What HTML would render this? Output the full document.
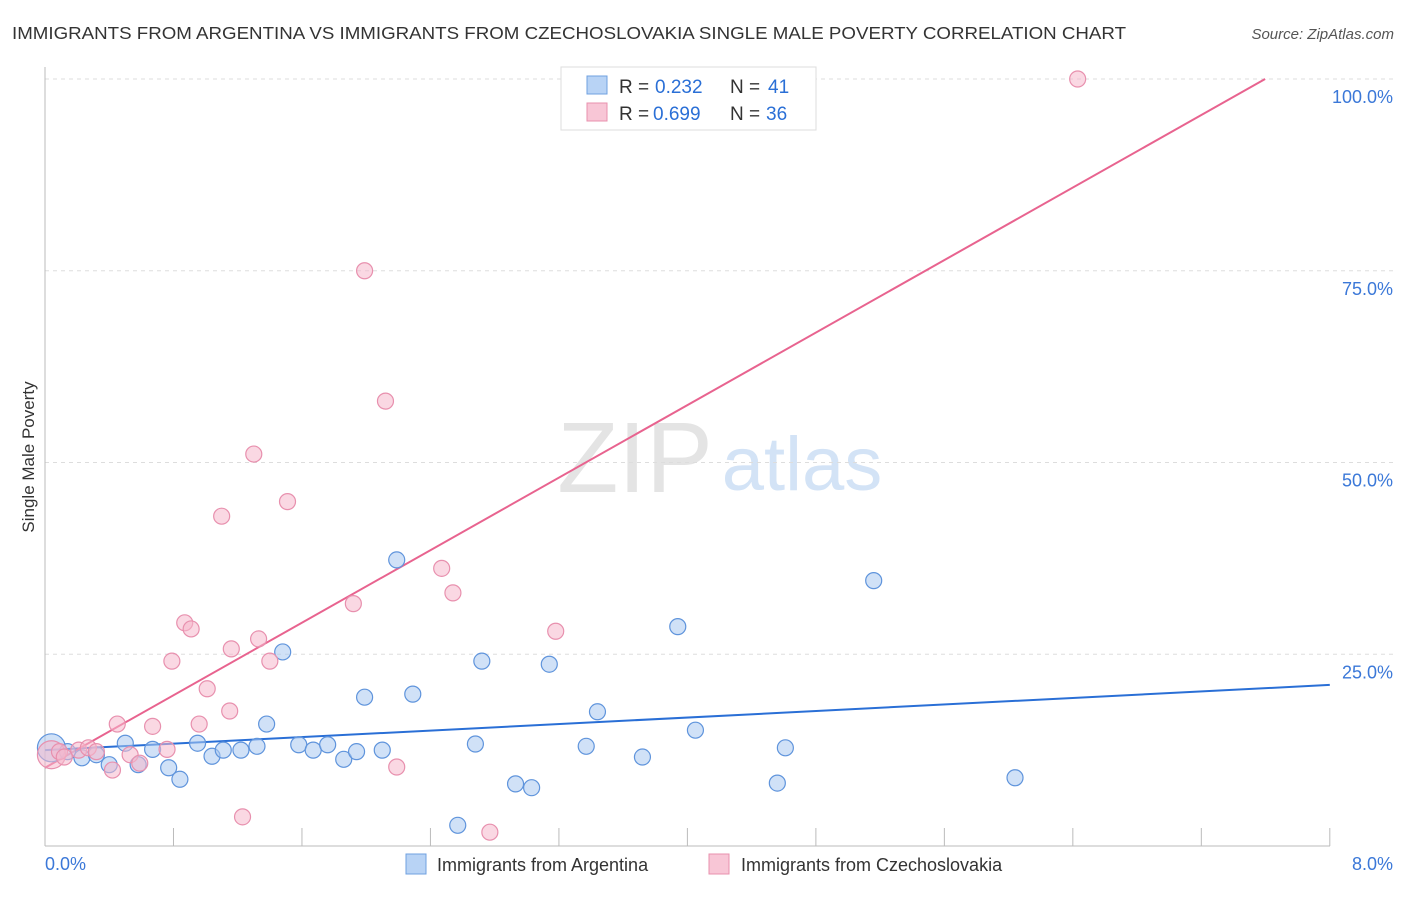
<!DOCTYPE html>
<html><head><meta charset="utf-8"><style>
body{margin:0;background:#fff;font-family:"Liberation Sans",sans-serif}
svg text{font-family:"Liberation Sans",sans-serif}
</style></head><body>
<svg id="chart" width="1406" height="892" xmlns="http://www.w3.org/2000/svg">
<text x="12" y="39" font-size="17.5" fill="#333" textLength="1114" lengthAdjust="spacingAndGlyphs">IMMIGRANTS FROM ARGENTINA VS IMMIGRANTS FROM CZECHOSLOVAKIA SINGLE MALE POVERTY CORRELATION CHART</text>
<text x="1394" y="39" font-size="15" fill="#555" font-style="italic" text-anchor="end">Source: ZipAtlas.com</text>
<text x="34" y="457" font-size="17" fill="#333" text-anchor="middle" transform="rotate(-90 34 457)">Single Male Poverty</text>
<g><text x="635" y="492" font-size="100" fill="#e4e4e4" font-family="Liberation Serif" text-anchor="middle">ZIP</text><text x="802" y="490" font-size="76" fill="#d3e3f6" text-anchor="middle">atlas</text></g>
<g id="grid"></g><g id="axes"></g><g id="lines"></g><g id="points"></g>
<g>
<rect x="561" y="67" width="255" height="63" fill="#fff" stroke="#ddd"/>
<rect x="587" y="76" width="20" height="18" fill="#b8d3f5" stroke="#6fa0e0"/>
<text x="619" y="93" font-size="19" fill="#333">R =</text><text x="655" y="93" font-size="19" fill="#2a6fd6">0.232</text>
<text x="730" y="93" font-size="19" fill="#333">N =</text><text x="768" y="93" font-size="19" fill="#2a6fd6">41</text>
<rect x="587" y="103" width="20" height="18" fill="#f8c6d6" stroke="#e890ae"/>
<text x="619" y="120" font-size="19" fill="#333">R =</text><text x="653" y="120" font-size="19" fill="#2a6fd6">0.699</text>
<text x="730" y="120" font-size="19" fill="#333">N =</text><text x="766" y="120" font-size="19" fill="#2a6fd6">36</text>
</g>
<g>
<rect x="406" y="854" width="20" height="20" fill="#b8d3f5" stroke="#6fa0e0"/>
<text x="437" y="871" font-size="18" fill="#333">Immigrants from Argentina</text>
<rect x="709" y="854" width="20" height="20" fill="#f8c6d6" stroke="#e890ae"/>
<text x="741" y="871" font-size="18" fill="#333">Immigrants from Czechoslovakia</text>
</g>
</svg>
<script>
const yTicks=[25,50,75,100];
const yTickLabels=["25.0%","50.0%","75.0%","100.0%"];
const xTickLabels=["0.0%","8.0%"];
const blueX=[0.04,0.14,0.23,0.32,0.40,0.50,0.58,0.67,0.77,0.84,0.95,1.04,1.11,1.22,1.32,1.38,1.48,1.58,1.67,1.76,1.86,1.94,1.99,2.10,2.19,2.29,2.57,2.68,2.72,2.93,3.03,3.14,3.37,3.44,3.72,3.94,4.05,4.56,4.61,5.16,6.04];
const blueY=[12.8,12.3,11.5,11.9,10.6,13.4,10.6,12.6,10.2,8.7,13.4,11.7,12.5,12.5,13.0,15.9,25.3,13.2,12.5,13.2,11.3,12.3,19.4,12.5,37.3,19.8,2.7,13.3,24.1,8.1,7.6,23.7,13.0,17.5,11.6,28.6,15.1,8.2,12.8,34.6,8.9];
const pinkX=[0.04,0.09,0.12,0.21,0.27,0.32,0.42,0.45,0.53,0.59,0.67,0.76,0.79,0.87,0.91,0.96,1.01,1.10,1.15,1.16,1.23,1.30,1.33,1.40,1.51,1.92,1.99,2.12,2.19,2.47,2.54,2.77,3.18,6.43];
const pinkY=[11.9,12.3,11.6,12.5,12.8,12.3,9.9,15.9,11.9,10.8,15.6,12.6,24.1,29.1,28.3,15.9,20.5,43.0,17.6,25.7,3.8,51.1,27.0,24.1,44.9,31.6,75.0,58.0,10.3,36.2,33.0,1.8,28.0,100];
const blueLine=[12.5,21.0];
const pinkLine=[10.2,11.82];
const NS="http://www.w3.org/2000/svg";
const X=v=>45+v*160.6, Y=v=>846-v*7.67;
function mk(t,a,p){const e=document.createElementNS(NS,t);for(const k in a)e.setAttribute(k,a[k]);document.getElementById(p).appendChild(e);return e;}
yTicks.forEach((t,i)=>{
 const g=mk('line',{x1:45,x2:1394,y1:Y(t),y2:Y(t),stroke:'#ddd','stroke-dasharray':'4,4'},'grid');
 
 
 const l=mk('text',{x:1393,y:Y(t)+24,'font-size':18,fill:'#3b78d8','text-anchor':'end'},'axes');
 l.textContent=yTickLabels[i];
 
 
});
const ax=mk('line',{x1:45,x2:1330,y1:846,y2:846,stroke:'#bbb'},'axes');


const ay=mk('line',{x1:45,x2:45,y1:67,y2:846,stroke:'#bbb'},'axes');


for(let i=1;i<=10;i++){const t=mk('line',{x1:X(i*0.8),x2:X(i*0.8),y1:828,y2:846,stroke:'#bbb'},'axes');
 
 }
[[0,'start',45],[8,'end',1393]].forEach((d,i)=>{const t=mk('text',{x:d[2],y:870,'font-size':18,fill:'#3b78d8','text-anchor':d[1]},'axes');t.textContent=xTickLabels[i];
 
 });
function pts(xs,ys,fill,stroke,name){xs.forEach((x,i)=>{const c=mk('circle',{cx:X(x),cy:Y(ys[i]),r:i==0?14:8,fill:fill,'fill-opacity':0.55,stroke:stroke,'stroke-width':1.2},'points');
 
 });}
pts(blueX,blueY,'#a9c9f0','#5f94dc','argentina-point');
pts(pinkX,pinkY,'#f5b8cc','#e890ae','czechoslovakia-point');
const bl=mk('line',{x1:X(0),y1:Y(blueLine[0]),x2:X(8),y2:Y(blueLine[1]),stroke:'#2a6fd6','stroke-width':2},'lines');


const xe=(100-pinkLine[0])/pinkLine[1];
const pl=mk('line',{x1:X(0),y1:Y(pinkLine[0]),x2:X(xe),y2:Y(100),stroke:'#e8638f','stroke-width':2},'lines');


</script>
</body></html>
